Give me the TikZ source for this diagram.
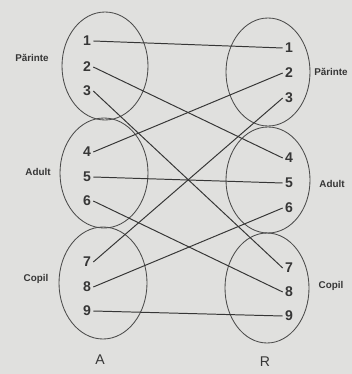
\documentclass[tikz,border=0pt]{standalone}
\usepackage{fontspec}
\setmainfont{Liberation Sans}
\usetikzlibrary{positioning}
\definecolor{papier}{HTML}{E0E0DE}
\definecolor{tinte}{HTML}{363636}

\begin{document}
\begin{tikzpicture}[x=0.025cm, y=-0.025cm,
    zahl/.style={font=\fontsize{10}{11}\selectfont\bfseries, text=tinte, inner sep=1.5pt},
    gruppe/.style={font=\fontsize{7}{8}\selectfont\bfseries, text=tinte},
    menge/.style={draw=tinte!90, line width=0.6pt},
    paar/.style={draw=tinte, line width=0.7pt}]
      % Hintergrund
      \fill[papier] (0,0) rectangle (352,374);
      \useasboundingbox (0,0) rectangle (352,374);

      % Mengen A
      \draw[menge] (105,66) ellipse (43 and 54);
      \draw[menge] (104,173) ellipse (44 and 55);
      \draw[menge] (103,283) ellipse (44 and 56);
      % Mengen R
      \draw[menge] (268,72) ellipse (42 and 54);
      \draw[menge] (268,180) ellipse (42 and 53);
      \draw[menge] (267,288) ellipse (42 and 55);

      % Elemente
      \foreach \i/\ya/\yr in {1/41/48, 2/67/73, 3/91/98, 4/152/158, 5/177/183,
                              6/201/208, 7/262/268, 8/287/292, 9/311/316} {
        \node[zahl] (a\i) at (87,\ya) {\i};
        \node[zahl] (r\i) at (289,\yr) {\i};
      }

      % Beschriftungen
      \node[gruppe] (pa) at (32,58) {Părinte};
      \node[gruppe] (ad) at (38,172) {Adult};
      \node[gruppe] (co) at (36,279) {Copil};
      \node[gruppe] (pr) at (331,72) {Părinte};
      \node[gruppe] (ar) at (332,184) {Adult};
      \node[gruppe] (cr) at (331,286) {Copil};
      \node[zahl, font=\fontsize{10}{11}\selectfont] (na) at (100,360) {A};
      \node[zahl, font=\fontsize{10}{11}\selectfont] (nr) at (265,362) {R};

      % Zuordnung
      \foreach \u/\v in {1/1, 2/4, 3/7, 4/2, 5/5, 6/8, 7/3, 8/6, 9/9}
        \draw[paar] (a\u.east) -- (r\v.west);
    \end{tikzpicture}
\end{document}
